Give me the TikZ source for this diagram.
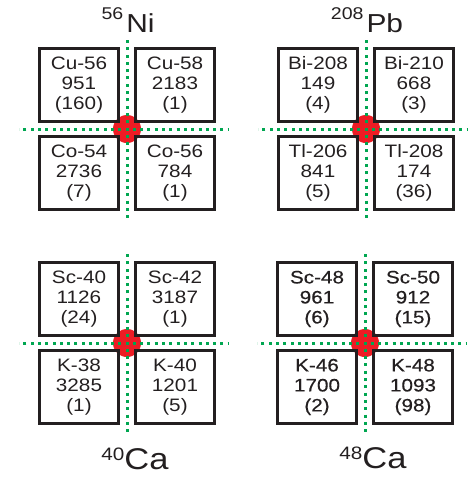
\documentclass[tikz,border=0pt]{standalone}
\usepackage{fontspec}
\setmainfont{Liberation Sans}[FakeStretch=1.15]
\newfontfamily\heavyfont{Liberation Sans}[FakeStretch=1.15,FakeBold=0.4]
\usetikzlibrary{positioning}
\definecolor{boxline}{HTML}{231F20}
\definecolor{corered}{HTML}{ED1C24}
\definecolor{shellgreen}{HTML}{00A651}
\tikzset{
    isobox/.style = {rectangle, draw=boxline, line width=2.1pt, minimum width=79pt, minimum height=73pt, inner sep=0pt, align=center, text=boxline, font=\fontsize{18}{20}\selectfont},
    heavybox/.style = {isobox, line width=2.6pt, font=\heavyfont\fontsize{18}{20}\selectfont},
    core/.style = {circle, fill=corered, minimum size=28pt, inner sep=0pt},
    shell/.style = {draw=shellgreen, line width=3pt, dash pattern=on 3pt off 4.3pt, dash phase=1.5pt},
    nucleus/.style = {inner sep=0pt, text=boxline, font=\fontsize{26}{26}\selectfont},
    heavynucleus/.style = {nucleus, font=\fontsize{30}{30}\selectfont}
}

\begin{document}
\begin{tikzpicture}[x=1pt, y=-1pt, node distance=44pt and 48pt, on grid]
\useasboundingbox (0,0) rectangle (469,477);

\node (ni) [core] at (127,129) {};
\node (ni-ul) [isobox, above left=of ni] {Cu-56\\951\\(160)};
\node (ni-ur) [isobox, above right=of ni] {Cu-58\\2183\\(1)};
\node (ni-ll) [isobox, below left=of ni] {Co-54\\2736\\(7)};
\node (ni-lr) [isobox, below right=of ni] {Co-56\\784\\(1)};
\node (ni-lbl) [nucleus, above=97pt of ni, anchor=base, xshift=1pt] {\raisebox{13pt}{\fontsize{17}{17}\selectfont 56}\hspace{3pt}Ni};

\node (pb) [core] at (366,129) {};
\node (pb-ul) [isobox, above left=of pb] {Bi-208\\149\\(4)};
\node (pb-ur) [isobox, above right=of pb] {Bi-210\\668\\(3)};
\node (pb-ll) [isobox, below left=of pb] {Tl-206\\841\\(5)};
\node (pb-lr) [isobox, below right=of pb] {Tl-208\\174\\(36)};
\node (pb-lbl) [nucleus, above=97pt of pb, anchor=base, xshift=1pt] {\raisebox{13pt}{\fontsize{17}{17}\selectfont 208}\hspace{3pt}Pb};

\node (ca40) [core] at (127,343) {};
\node (ca40-ul) [isobox, above left=of ca40] {Sc-40\\1126\\(24)};
\node (ca40-ur) [isobox, above right=of ca40] {Sc-42\\3187\\(1)};
\node (ca40-ll) [isobox, below left=of ca40] {K-38\\3285\\(1)};
\node (ca40-lr) [isobox, below right=of ca40] {K-40\\1201\\(5)};
\node (ca40-lbl) [heavynucleus, below=126pt of ca40, anchor=base, xshift=8pt] {\raisebox{9pt}{\fontsize{18}{18}\selectfont 40}Ca};

\node (ca48) [core] at (365,343) {};
\node (ca48-ul) [heavybox, above left=of ca48] {Sc-48\\961\\(6)};
\node (ca48-ur) [heavybox, above right=of ca48] {Sc-50\\912\\(15)};
\node (ca48-ll) [heavybox, below left=of ca48] {K-46\\1700\\(2)};
\node (ca48-lr) [heavybox, below right=of ca48] {K-48\\1093\\(98)};
\node (ca48-lbl) [heavynucleus, below=125pt of ca48, anchor=base, xshift=8pt] {\raisebox{9pt}{\fontsize{18}{18}\selectfont 48}Ca};

\foreach \n in {ni, pb, ca40, ca48} {
    \coordinate (\n-w) at ([xshift=-108pt]\n.center);
    \coordinate (\n-e) at ([xshift=101pt]\n.center);
    \coordinate (\n-n) at ([yshift=93pt]\n.center);
    \coordinate (\n-s) at ([yshift=-93pt]\n.center);
    \draw [shell] (\n.center) -- (\n-w) (\n.center) -- (\n-e) (\n.center) -- (\n-n) (\n.center) -- (\n-s);
}
\end{tikzpicture}
\end{document}
